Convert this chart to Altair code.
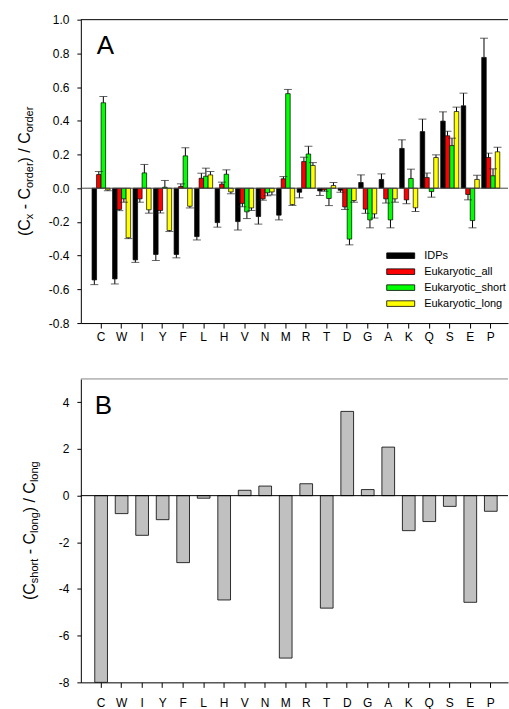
import altair as alt
import pandas as pd

FONT = "Liberation Sans"

categories = ["C", "W", "I", "Y", "F", "L", "H", "V", "N", "M",
              "R", "T", "D", "G", "A", "K", "Q", "S", "E", "P"]

series_names = ["IDPs", "Eukaryotic_all", "Eukaryotic_short", "Eukaryotic_long"]
series_colors = ["#000000", "#ff0000", "#00ff00", "#ffff00"]

idps = [-0.544, -0.538, -0.425, -0.393, -0.393, -0.287, -0.204, -0.198, -0.168, -0.160,
        -0.024, -0.016, -0.012, 0.034, 0.052, 0.236, 0.336, 0.398, 0.489, 0.776]
idps_err = [0.028, 0.030, 0.015, 0.036, 0.020, 0.020, 0.027, 0.050, 0.045, 0.028,
            0.033, 0.027, 0.012, 0.045, 0.033, 0.051, 0.074, 0.055, 0.075, 0.114]
euk_all = [0.081, -0.126, -0.063, -0.132, 0.010, 0.059, 0.024, -0.090, -0.063, 0.056,
           0.158, -0.010, -0.111, -0.124, -0.063, -0.069, 0.063, 0.311, -0.037, 0.182]
euk_all_err = [0.018, 0.007, 0.020, 0.015, 0.016, 0.030, 0.012, 0.020, 0.008, 0.013,
               0.026, 0.008, 0.015, 0.025, 0.025, 0.023, 0.027, 0.027, 0.032, 0.026]
euk_short = [0.507, -0.063, 0.091, 0.006, 0.192, 0.071, 0.083, -0.140, -0.027, 0.561,
             0.203, -0.061, -0.302, -0.188, -0.188, 0.058, -0.020, 0.253, -0.192, 0.074]
euk_short_err = [0.037, 0.020, 0.050, 0.040, 0.048, 0.048, 0.026, 0.040, 0.018, 0.025,
                 0.046, 0.042, 0.034, 0.047, 0.047, 0.055, 0.033, 0.044, 0.043, 0.041]
euk_long = [-0.010, -0.294, -0.128, -0.251, -0.107, 0.079, -0.022, -0.117, -0.022, -0.097,
            0.135, 0.016, -0.073, -0.152, -0.063, -0.116, 0.182, 0.455, 0.052, 0.216]
euk_long_err = [0.005, 0.005, 0.020, 0.006, 0.010, 0.020, 0.011, 0.015, 0.018, 0.005,
                0.017, 0.018, 0.010, 0.025, 0.020, 0.022, 0.016, 0.026, 0.025, 0.027]

ratio_short_long = [-8.0, -0.77, -1.70, -1.03, -2.87, -0.11, -4.47, 0.23, 0.41, -6.96,
                    0.51, -4.82, 3.61, 0.26, 2.08, -1.50, -1.11, -0.46, -4.57, -0.67]

yticks_a = [-0.8, -0.6, -0.4, -0.2, 0.0, 0.2, 0.4, 0.6, 0.8, 1.0]
yticks_b = [-8, -6, -4, -2, 0, 2, 4]

# ---------- data tables ----------
rows = []
for name, vals, errs in zip(series_names,
                            [idps, euk_all, euk_short, euk_long],
                            [idps_err, euk_all_err, euk_short_err, euk_long_err]):
    for c, v, e in zip(categories, vals, errs):
        rows.append({"aa": c, "series": name, "value": v,
                     "end": v + e if v >= 0 else v - e})
dfA = pd.DataFrame(rows)
dfB = pd.DataFrame({"aa": categories, "ratio": ratio_short_long})
one = pd.DataFrame({"k": [0]})

W_A, H_A = 428, 304
W_B, H_B = 428, 304

# Arial / Liberation Sans advance widths (em)
CW = {'(': 0.333, ')': 0.333, 'C': 0.722, 'x': 0.5, ' ': 0.278, '-': 0.333,
      'o': 0.556, 'r': 0.333, 'd': 0.556, 'e': 0.556, '/': 0.278, 's': 0.5,
      'h': 0.556, 't': 0.278, 'l': 0.222, 'n': 0.556, 'g': 0.556}


def tw(s, size):
    return sum(CW.get(ch, 0.55) for ch in s) * size


def title_layers(pieces, center, xmain, xsub):
    total = sum(tw(t, s) for t, s, _ in pieces)
    pos = center + total / 2
    layers = []
    for t, s, sub in pieces:
        lead = len(t) - len(t.lstrip(" "))
        txt = t.strip(" ")
        y0 = pos - tw(" " * lead, s)
        layers.append(
            alt.Chart(one).mark_text(angle=270, align="left", baseline="alphabetic",
                                     font=FONT, fontSize=s, color="black")
            .encode(x=alt.value(xsub if sub else xmain), y=alt.value(y0),
                    text=alt.value(txt))
        )
        pos -= tw(t, s)
    return layers


def corner():
    # white 1px anchor at the top-left of the figure, fixes the overall layout
    return alt.Chart(one).mark_rect(fill="white", opacity=1).encode(
        x=alt.value(-81), x2=alt.value(-80), y=alt.value(-19), y2=alt.value(-18))


# ---------- panel A ----------
xA_scale = alt.Scale(paddingInner=0.12, paddingOuter=0.474, align=0.577)
yA_scale = alt.Scale(domain=[-0.8, 1.0], nice=False, zero=False)
xA_axis = alt.Axis(labelAngle=0, tickSize=5, labelPadding=3, domainColor="black",
                   tickColor="black", labelFontSize=12, title=None)
yA_axis = alt.Axis(values=yticks_a, tickSize=4, labelPadding=8, grid=False,
                   labelFontSize=12, title=None, labelOverlap=False,
                   labelExpr="datum.value < 0 ? '-' + format(-datum.value, '.1f') : format(datum.value, '.1f')")

barsA = alt.Chart(dfA).mark_bar(stroke="black", strokeWidth=0.7).encode(
    x=alt.X("aa:N", sort=categories, scale=xA_scale, axis=xA_axis),
    xOffset=alt.XOffset("series:N", sort=series_names,
                        scale=alt.Scale(paddingInner=0, paddingOuter=0)),
    y=alt.Y("value:Q", scale=yA_scale, axis=yA_axis),
    fill=alt.Fill("series:N", sort=series_names,
                  scale=alt.Scale(domain=series_names, range=series_colors),
                  legend=alt.Legend(orient="none", legendX=315, legendY=231, title=None,
                                    symbolType="M-5,-1H5V1H-5Z", symbolSize=31.4,
                                    symbolStrokeColor="black", symbolStrokeWidth=0.8,
                                    labelFont=FONT, labelFontSize=11, labelColor="black",
                                    labelOffset=18, rowPadding=4, padding=0)),
)

errA = alt.Chart(dfA).mark_rule(color="black", strokeWidth=1).encode(
    x=alt.X("aa:N", sort=categories, scale=xA_scale, axis=xA_axis),
    xOffset=alt.XOffset("series:N", sort=series_names,
                        scale=alt.Scale(paddingInner=0, paddingOuter=0)),
    y=alt.Y("value:Q", scale=yA_scale, axis=yA_axis),
    y2="end:Q",
)
capA = alt.Chart(dfA).mark_tick(color="#222222", thickness=1, size=8).encode(
    x=alt.X("aa:N", sort=categories, scale=xA_scale, axis=xA_axis),
    xOffset=alt.XOffset("series:N", sort=series_names,
                        scale=alt.Scale(paddingInner=0, paddingOuter=0)),
    y=alt.Y("end:Q", scale=yA_scale, axis=yA_axis),
)
zeroA = alt.Chart(one).mark_rule(color="#444444", strokeWidth=1).encode(
    y=alt.Y(datum=0, scale=yA_scale, axis=yA_axis))
topA = alt.Chart(one).mark_rule(color="black", strokeWidth=1).encode(
    x=alt.value(0), x2=alt.value(W_A), y=alt.value(0))
labelA = alt.Chart(one).mark_text(align="left", baseline="alphabetic", font=FONT,
                                  fontSize=26, color="black").encode(
    x=alt.value(16), y=alt.value(34), text=alt.value("A"))

piecesA = [("(C", 16, False), ("x", 11, True), (" - C", 16, False),
           ("order", 11, True), (") / C", 16, False), ("order", 11, True)]

panelA = alt.layer(barsA, errA, capA, zeroA, topA, labelA, corner(),
                   *title_layers(piecesA, H_A / 2, -50.5, -47.5)).properties(
    width=W_A, height=H_A)

# ---------- panel B ----------
xB_scale = alt.Scale(paddingInner=0.38, paddingOuter=0.6035, align=0.562)
yB_scale = alt.Scale(domain=[-8, 5], nice=False, zero=False)
yB_axis = alt.Axis(values=yticks_b, tickSize=4, labelPadding=8, grid=False,
                   labelFontSize=12, title=None, labelOverlap=False,
                   labelExpr="datum.value < 0 ? '-' + format(-datum.value, 'd') : format(datum.value, 'd')")

barsB = alt.Chart(dfB).mark_bar(fill="#c0c0c0", stroke="black", strokeWidth=0.8).encode(
    x=alt.X("aa:N", sort=categories, scale=xB_scale,
            axis=alt.Axis(labelAngle=0, tickSize=5, labelPadding=10, domainColor="black",
                          tickColor="black", labelFontSize=12, title=None)),
    y=alt.Y("ratio:Q", scale=yB_scale, axis=yB_axis),
)
zeroB = alt.Chart(one).mark_rule(color="black", strokeWidth=1).encode(
    y=alt.Y(datum=0, scale=yB_scale, axis=yB_axis))
topB = alt.Chart(one).mark_rule(color="#888888", strokeWidth=1).encode(
    x=alt.value(0), x2=alt.value(W_B), y=alt.value(0))
labelB = alt.Chart(one).mark_text(align="left", baseline="alphabetic", font=FONT,
                                  fontSize=26, color="black").encode(
    x=alt.value(14), y=alt.value(35), text=alt.value("B"))

piecesB = [("(C", 16, False), ("short", 11, True), (" - C", 16, False),
           ("long", 11, True), (") / C", 16, False), ("long", 11, True)]

panelB = alt.layer(barsB, zeroB, topB, labelB,
                   *title_layers(piecesB, H_B / 2, -46, -43)).properties(
    width=W_B, height=H_B)

chart = alt.vconcat(panelA, panelB, spacing=56, bounds="flush").properties(
    padding=0
).configure_view(stroke=None).configure_axis(
    labelFont=FONT, labelColor="black", domainColor="black", tickColor="black",
    domainWidth=1, tickWidth=1
)

chart.save("out.html", embed_options={"renderer": "svg", "actions": False})
